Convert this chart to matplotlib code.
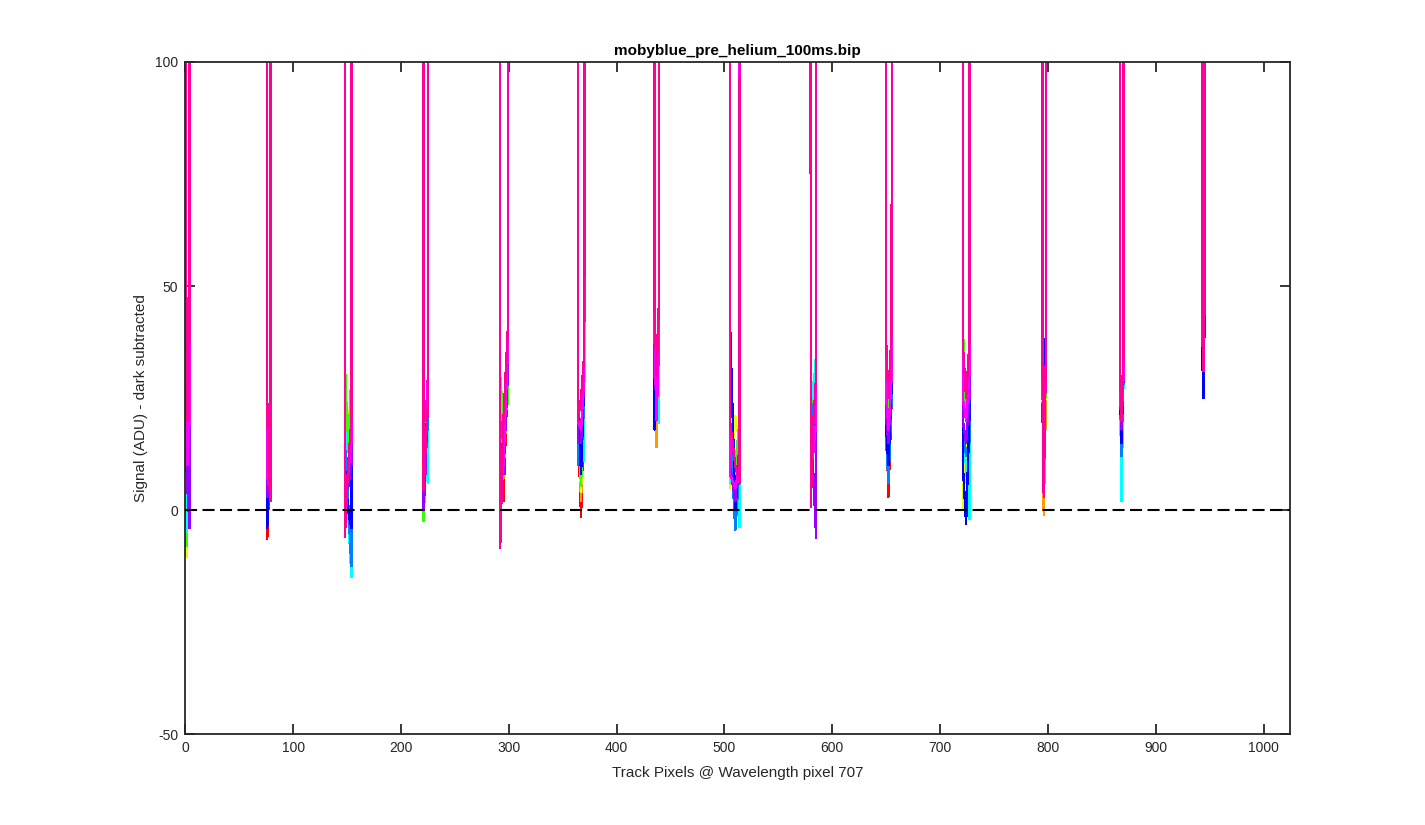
"""Segnale per traccia (dark sottratto) a pixel di lunghezza d'onda 707."""

import matplotlib

matplotlib.use("Agg")
import matplotlib.pyplot as plt
import numpy as np

plt.rcParams["font.family"] = ["Liberation Sans", "DejaVu Sans"]
plt.rcParams["axes.unicode_minus"] = False

TITLE = "mobyblue_pre_helium_100ms.bip"
XLABEL = "Track Pixels @ Wavelength pixel 707"
YLABEL = "Signal (ADU) - dark subtracted"

# segnale delle fibre (fuori scala, sopra 100 ADU)
FIBRE_LEVEL = 1000.0

# pixel dei gap tra fibre: sinistra, centro, destra
gap_pixels = [
    (1, 2, 4), (76, 77, 79), (148, 151, 154), (221, 223, 225),
    (292, 295, 299), (364, 367, 370), (435, 437, 439), (505, 510, 514),
    (580, 582, 585), (650, 652, 655), (721, 724, 727), (795, 796, 798),
    (867, 868, 870), (943, 944, 945),
]

track_colors = [
    "#ff0000", "#ff9900", "#e5ff00", "#33ff00", "#00ffff",
    "#0080ff", "#0000ff", "#9900ff", "#ff00ff", "#ff0099",
]

# valori minimi (ADU) per ogni traccia in ogni gap: (sinistra, centro, destra)
red = [(15, 12, 30), (-6.5, 0, 20), (10, 5, 21), (10, 15, 25), (20, 2, 30),
       (20, -1.5, 25), (25, 20, 30), (15, 10, 20), (20, 15, 25), (20, 3, 25),
       (15, 10, 20), (20, 10, 25), (25, 20, 30), (40, 35, 45)]
orange = [(-8, 5, 25), (5, 3, 25), (12, 8, 25), (15, 18, 28), (25, 7, 30),
          (22, 2, 28), (30, 14, 30), (12, 8, 18), (25, 18, 30), (22, 8, 28),
          (10, 12, 20), (25, -1, 25), (25, 18, 30), (40, 35, 45)]
yellow = [(-10.5, 3, 25), (10, 8, 31), (20, 15, 30), (18, 20, 30), (30, 15, 35),
          (25, 4, 30), (30, 22, 35), (5, 21, 15), (25, 20, 30), (25, 10, 30),
          (0, 13, 25), (25, 10, 30), (25, 15, 30), (40, 35, 45)]
green = [(-8, 8, 28), (12, 10, 25), (33, 13, 30), (-2.5, 10, 25), (30, 20, 24),
         (20, 5.5, 30), (30, 24, 35), (6, 10, 20), (28, 22, 32), (30, 20, 35),
         (41, 20, 30), (30, 12, 30), (25, 10, 30), (40, 35, 45)]
cyan = [(-5, 10, 30), (15, 12, 15), (20, 0, -15), (12, 10, 6), (25, 12, 35),
        (25, 12, 11), (30, 25, 19.5), (6, 8, -3.8), (30, 25, 35), (20, 7, 25),
        (15, 10, -2), (25, 15, 30), (25, 2, 30), (40, 35, 45)]
azure = [(27, 20, 35), (0, 5, 20), (15, 2, -12.5), (15, 12, 20), (20, 15, 40),
         (10, 10, 25), (25, 20, 35), (20, -4.5, 10), (25, 20, 28), (15, 6, 25),
         (20, 12, 15), (35, 20, 35), (25, 12, 30), (35, 30, 40)]
blue = [(20, 18, 40), (-4, 2, 18), (10, 0, -4), (20, 15, 25), (15, 12, 40),
        (25, 8, 30), (18, 22, 35), (43, 0, 12), (20, 13, 28), (18, 10, 28),
        (10, -3, 20), (45, 20, 40), (25, 15, 30), (35, 25, 40)]
purple = [(10, 5, -4), (3, 4, 10), (8, 5, 10), (0, 10, 30), (10, 8, 30),
          (15, 15, 30), (30, 25, 40), (10, 2, 15), (15, 10, -6.3), (20, 15, 30),
          (20, 15, 25), (30, 15, 30), (25, 18, 30), (40, 33, 45)]
magenta = [(15, 10, 20), (8, 6, 5), (5, 8, 15), (22, 20, 30), (5, 10, 35),
           (20, 18, 30), (40, 20, 35), (8, 5, 10), (10, 12, 20), (25, 18, 30),
           (25, 20, 30), (25, 15, 30), (25, 20, 30), (40, 32, 45)]
pink = [(30, 20, 40), (25, 10, 2), (-6, 10, 20), (4.5, 15, 23), (-8.5, 20, 40),
        (20, 25, 35), (46, 30, 45), (20, 10, 6), (0.7, 18, 30), (37, 25, 40),
        (37, 25, 37), (30, 3, 35), (30, 20, 35), (40, 31, 45)]

tracks = [red, orange, yellow, green, cyan, azure, blue, purple, magenta, pink]


def track_line(gaps):
    xs, ys = [], []
    for (xl, xm, xr), vals in zip(gap_pixels, gaps):
        xs += [xl - 1, xl, xm, xr, xr + 1]
        ys += [FIBRE_LEVEL, *vals, FIBRE_LEVEL]
    return xs, ys


def main() -> None:
    fig = plt.figure(figsize=(14.25, 8.25), dpi=100)
    ax = fig.add_axes([0.13, 0.11, 0.775, 0.815])

    for gaps, color in zip(tracks, track_colors):
        xs, ys = track_line(gaps)
        ax.plot(xs, ys, color=color, lw=1.0, antialiased=False)

    ax.plot([0, 1024], [0, 0], color="black", ls="--", lw=1.5,
            dashes=(5.8, 2.6), zorder=5)

    ax.set_xlim(0, 1024)
    ax.set_ylim(-50, 100)
    ax.set_xticks(np.arange(0, 1001, 100))
    ax.set_yticks([-50, 0, 50, 100])

    axis_col = "#262626"
    for sp in ax.spines.values():
        sp.set_color(axis_col)
        sp.set_linewidth(1.3)
    ax.tick_params(direction="in", length=7, width=1.3, colors=axis_col,
                   labelsize=10, top=True, right=True, pad=5)

    ax.set_title(TITLE, fontsize=11, fontweight="bold", color="black", pad=5)
    ax.set_xlabel(XLABEL, fontsize=11, color=axis_col, labelpad=8)
    ax.set_ylabel(YLABEL, fontsize=11, color=axis_col, labelpad=5)

    fig.savefig("out.png", dpi=100, facecolor="white")


if __name__ == "__main__":
    main()
